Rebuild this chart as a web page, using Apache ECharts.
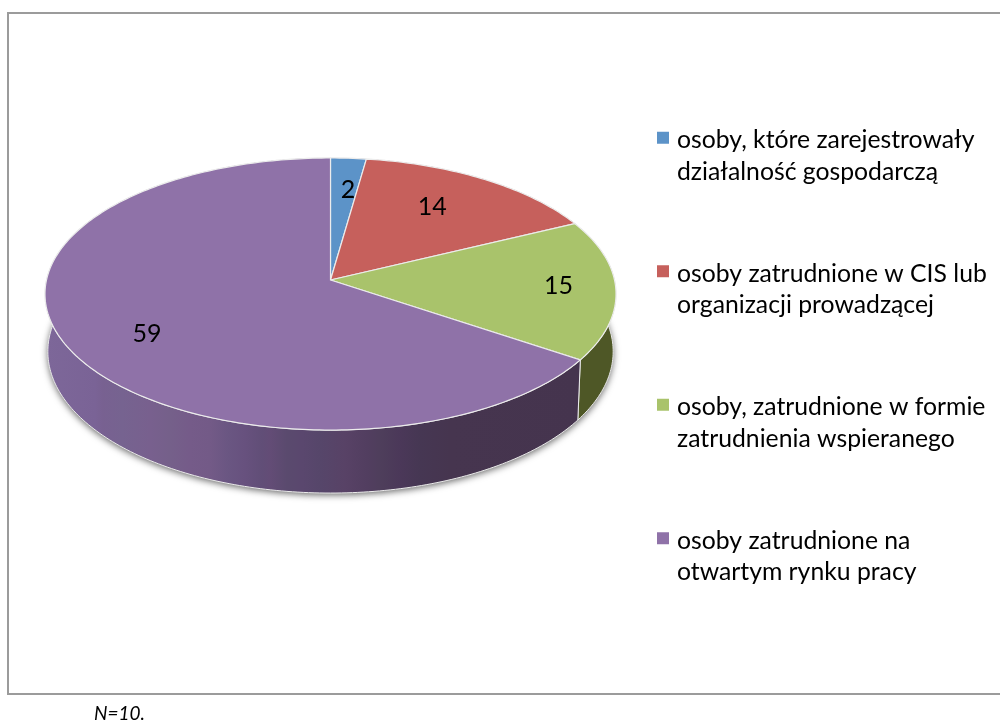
<!DOCTYPE html>
<html>
<head>
<meta charset="utf-8">
<style>
  html, body { margin: 0; padding: 0; background: #fff; }
  #chart { width: 1000px; height: 720px; }
</style>
<script src="https://cdn.jsdelivr.net/npm/echarts@6/dist/echarts.min.js"></script>
</head>
<body>
<div id="chart"></div>
<script>
const categories = [
  ['osoby, które zarejestrowały', 'działalność gospodarczą'],
  ['osoby zatrudnione w CIS lub', 'organizacji prowadzącej'],
  ['osoby, zatrudnione w formie', 'zatrudnienia wspieranego'],
  ['osoby zatrudnione na', 'otwartym rynku pracy']
]
const values = [2, 14, 15, 59]
const note = 'N=10.'

const topColors = ['#5c93c8', '#c6605c', '#a9c36b', '#8f72a8']
const wallColors = ['#2f4a66', '#6b2f2d', '#4e5726', '#46354f']
// banding along the purple side wall, x position on the page and colour
const purpleWall = [
  [47, '#7d6799'], [95, '#7a6396'], [103, '#786191'], [122, '#766390'],
  [150, '#78608e'], [170, '#75608a'], [190, '#755b89'], [210, '#735a87'],
  [228, '#6a5682'], [245, '#67517e'], [262, '#614e77'], [270, '#634c76'],
  [287, '#5a4a6e'], [302, '#5a476e'], [320, '#56466a'], [345, '#584266'],
  [367, '#523e60'], [382, '#4e3e5b'], [400, '#4b3859'], [420, '#463753'],
  [450, '#46354f'], [580, '#45344e']
]
// label placement along the slice: share of the radius, turn from the mid angle
const labelRadius = [0.72, 0.69, 0.8, 0.73]
const labelTurn = [1.3, -2.6, -0.8, -3.8]

const total = values.reduce((a, b) => a + b, 0)
const names = categories.map(c => c.join('\n'))

// tilted disc: apex of the slices, scale and perspective of the top face
const apexX = 330.5
const apexY = 280
const scaleX = 284
const scaleY = 134.6
const persp = 0.103

function project(deg, r) {
  const rad = deg * Math.PI / 180
  const u = r * Math.sin(rad)
  const v = -r * Math.cos(rad)
  const w = 1 - persp * v
  return [apexX + scaleX * u / w, apexY + scaleY * v / w]
}

function lower(p) {
  return [apexX + (p[0] - apexX) * 0.99, apexY + (p[1] - apexY) * 1.04 + 57]
}

function arc(from, to) {
  const pts = []
  const steps = Math.max(2, Math.ceil(to - from))
  for (let i = 0; i <= steps; i++) {
    pts.push(project(from + (to - from) * i / steps, 1))
  }
  return pts
}

function renderSlice(index) {
  return function (params, api) {
    const from = api.value(1) / total * 360
    const to = from + api.value(0) / total * 360
    const edge = arc(from, to)
    const mid = (from + to) / 2 + labelTurn[index]
    const pos = project(mid, labelRadius[index])
    const children = [
      {
        type: 'polygon',
        z2: 1,
        shape: { points: edge.concat(edge.map(lower).reverse()) },
        style: {
          fill: index === 3
            ? new echarts.graphic.LinearGradient(45, 0, 580, 0, purpleWall.map(s => ({ offset: (s[0] - 45) / 535, color: s[1] })), true)
            : wallColors[index],
          stroke: '#ececec',
          lineWidth: 1
        }
      },
      {
        type: 'polygon',
        z2: 2,
        shape: { points: [[apexX, apexY]].concat(edge) },
        style: { fill: topColors[index], stroke: '#ececec', lineWidth: 1.2 }
      },
      {
        type: 'text',
        z2: 3,
        style: {
          x: pos[0],
          y: pos[1],
          text: String(api.value(0)),
          font: '25px Lato',
          fill: '#000',
          align: 'center',
          verticalAlign: 'middle'
        }
      }
    ]
    if (index === 3) {
      // soft shadow under the whole disc
      children.unshift({
        type: 'polygon',
        z2: 0,
        shape: { points: arc(0, 360).map(lower) },
        style: {
          fill: '#6d6d6d',
          shadowColor: 'rgba(0,0,0,0.6)',
          shadowBlur: 7,
          shadowOffsetY: 2
        }
      })
    }
    return { type: 'group', children: children }
  }
}

let before = 0
const series = values.map((v, i) => {
  const s = {
    type: 'custom',
    name: names[i],
    coordinateSystem: 'none',
    silent: true,
    itemStyle: { color: topColors[i] },
    data: [[v, before]],
    renderItem: renderSlice(i)
  }
  before += v
  return s
})

const chart = echarts.init(document.getElementById('chart'))
chart.setOption({
  animation: false,
  backgroundColor: '#fff',
  title: {
    text: note,
    left: 94,
    top: 704,
    padding: 0,
    textStyle: { fontFamily: 'Lato', fontSize: 19, fontStyle: 'italic', fontWeight: 'normal', color: '#000' }
  },
  legend: {
    data: names,
    orient: 'vertical',
    left: 657,
    top: 88,
    padding: 0,
    itemWidth: 12,
    itemHeight: 12,
    itemGap: 34,
    icon: 'rect',
    selectedMode: false,
    formatter: name => {
      const lines = name.split('\n')
      return '{gap| }\n{t|' + lines[0] + '}\n{t|' + lines[1] + '}'
    },
    textStyle: {
      rich: {
        gap: { height: 36.5, lineHeight: 36.5, fontSize: 10 },
        t: { fontFamily: 'Lato', fontSize: 24.75, lineHeight: 31.5, height: 31.5, color: '#000', padding: [0, 0, 0, 3] }
      }
    }
  },
  graphic: [
    {
      type: 'rect',
      silent: true,
      shape: { x: 8, y: 13, width: 1020, height: 681 },
      style: { fill: 'none', stroke: '#9b9b9b', lineWidth: 2 }
    }
  ],
  series: series
})
</script>
</body>
</html>
